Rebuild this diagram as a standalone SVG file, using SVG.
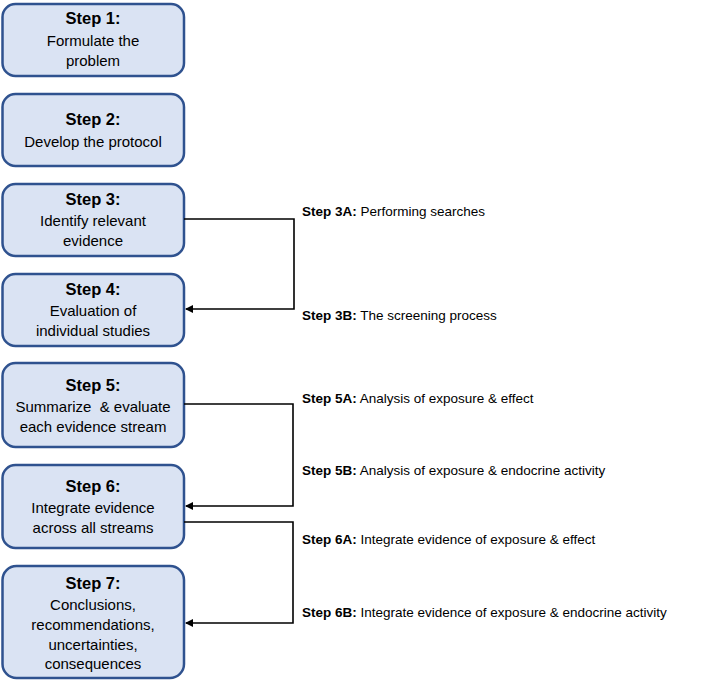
<svg xmlns="http://www.w3.org/2000/svg" width="709" height="682" viewBox="0 0 709 682">
<style>
.box{fill:#dae3f3;stroke:#2f528f;stroke-width:2.5}
.t{font-family:"Liberation Sans",Arial,sans-serif;text-anchor:middle;fill:#000}
.h{font-size:16.5px;font-weight:bold}
.b{font-size:15px}
.lab{font-family:"Liberation Sans",Arial,sans-serif;font-size:13.5px;fill:#000}
.lab tspan.k{font-weight:bold}
.c{fill:none;stroke:#000;stroke-width:1.6}
</style>
<defs>
<marker id="ah" markerWidth="8" markerHeight="8" refX="7" refY="4" orient="auto" markerUnits="userSpaceOnUse">
<path d="M0,0 L8,4 L0,8 z" fill="#000"/>
</marker>
</defs>
<rect width="709" height="682" fill="#fff"/>
<g id="step1"><rect class="box" x="2.5" y="4" width="181.5" height="72" rx="13"/>
<text class="t h" x="93" y="24">Step 1:</text>
<text class="t b" x="93" y="46">Formulate the</text>
<text class="t b" x="93" y="66">problem</text></g>
<g id="step2"><rect class="box" x="2.5" y="94" width="181.5" height="72" rx="13"/>
<text class="t h" x="93" y="125">Step 2:</text>
<text class="t b" x="93" y="147">Develop the protocol</text></g>
<g id="step3"><rect class="box" x="2.5" y="184" width="181.5" height="72" rx="13"/>
<text class="t h" x="93" y="205">Step 3:</text>
<text class="t b" x="93" y="226">Identify relevant</text>
<text class="t b" x="93" y="246">evidence</text></g>
<g id="step4"><rect class="box" x="2.5" y="274" width="181.5" height="72" rx="13"/>
<text class="t h" x="93" y="295">Step 4:</text>
<text class="t b" x="93" y="316">Evaluation of</text>
<text class="t b" x="93" y="336">individual studies</text></g>
<g id="step5"><rect class="box" x="2.5" y="363" width="181.5" height="84" rx="13"/>
<text class="t h" x="93" y="391">Step 5:</text>
<text class="t b" x="93" y="412" xml:space="preserve">Summarize  &amp; evaluate</text>
<text class="t b" x="93" y="432">each evidence stream</text></g>
<g id="step6"><rect class="box" x="2.5" y="465" width="181.5" height="83" rx="13"/>
<text class="t h" x="93" y="492">Step 6:</text>
<text class="t b" x="93" y="513">Integrate evidence</text>
<text class="t b" x="93" y="533">across all streams</text></g>
<g id="step7"><rect class="box" x="2.5" y="566" width="181.5" height="112" rx="14"/>
<text class="t h" x="93" y="589">Step 7:</text>
<text class="t b" x="93" y="610">Conclusions,</text>
<text class="t b" x="93" y="630">recommendations,</text>
<text class="t b" x="93" y="650">uncertainties,</text>
<text class="t b" x="93" y="669">consequences</text></g>
<g id="connectors">
<path class="c" d="M184,219 H294 V309 H186" marker-end="url(#ah)"/>
<path class="c" d="M184,404 H293 V506 H186" marker-end="url(#ah)"/>
<path class="c" d="M184,522 H293 V623 H186" marker-end="url(#ah)"/>
</g>
<g id="labels">
<text class="lab" x="302" y="216"><tspan class="k">Step 3A:</tspan> Performing searches</text>
<text class="lab" x="302" y="320"><tspan class="k">Step 3B:</tspan> The screening process</text>
<text class="lab" x="302" y="403"><tspan class="k">Step 5A:</tspan> Analysis of exposure &amp; effect</text>
<text class="lab" x="302" y="475"><tspan class="k">Step 5B:</tspan> Analysis of exposure &amp; endocrine activity</text>
<text class="lab" x="302" y="544"><tspan class="k">Step 6A:</tspan> Integrate evidence of exposure &amp; effect</text>
<text class="lab" x="302" y="617"><tspan class="k">Step 6B:</tspan> Integrate evidence of exposure &amp; endocrine activity</text>
</g>
</svg>
